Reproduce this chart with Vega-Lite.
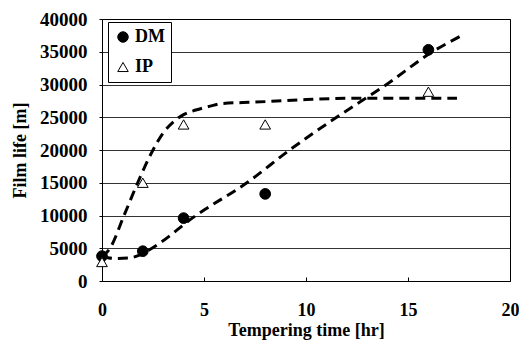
{
  "$schema": "https://vega.github.io/schema/vega-lite/v6.json",
  "width": 408,
  "height": 262,
  "autosize": "none",
  "padding": {"left": 102, "top": 19, "right": 9, "bottom": 60},
  "background": "white",
  "config": {
    "view": {"stroke": "black", "strokeWidth": 1},
    "font": "Liberation Serif",
    "legend": {
      "title": null,
      "orient": "none",
      "legendX": 6,
      "legendY": 3,
      "strokeColor": "black",
      "fillColor": "white",
      "padding": 6,
      "rowPadding": 12,
      "symbolSize": 110,
      "symbolStrokeColor": "black",
      "symbolStrokeWidth": 1,
      "labelFont": "Liberation Serif",
      "labelFontWeight": "bold",
      "labelFontSize": 18,
      "labelColor": "black",
      "labelOffset": 3
    }
  },
  "datasets": {
    "pts": [
      {"t": 0, "life": 3800, "series": "DM"},
      {"t": 2, "life": 4550, "series": "DM"},
      {"t": 4, "life": 9600, "series": "DM"},
      {"t": 8, "life": 13300, "series": "DM"},
      {"t": 16, "life": 35300, "series": "DM"},
      {"t": 0, "life": 2900, "series": "IP"},
      {"t": 2, "life": 15000, "series": "IP"},
      {"t": 4, "life": 23900, "series": "IP"},
      {"t": 8, "life": 23900, "series": "IP"},
      {"t": 16, "life": 28900, "series": "IP"}
    ],
    "curves": [
      {"t": 0, "life": 3700, "c": "DM"},
      {"t": 0.6, "life": 3450, "c": "DM"},
      {"t": 1.3, "life": 3500, "c": "DM"},
      {"t": 1.8, "life": 3900, "c": "DM"},
      {"t": 2.45, "life": 5000, "c": "DM"},
      {"t": 4.6, "life": 10000, "c": "DM"},
      {"t": 7.1, "life": 15000, "c": "DM"},
      {"t": 9.2, "life": 20000, "c": "DM"},
      {"t": 11.5, "life": 25000, "c": "DM"},
      {"t": 13.95, "life": 30000, "c": "DM"},
      {"t": 16.2, "life": 35000, "c": "DM"},
      {"t": 17.65, "life": 37500, "c": "DM"},
      {"t": 0, "life": 3700, "c": "IP"},
      {"t": 0.39, "life": 5000, "c": "IP"},
      {"t": 1.08, "life": 10000, "c": "IP"},
      {"t": 1.75, "life": 15000, "c": "IP"},
      {"t": 2.5, "life": 20000, "c": "IP"},
      {"t": 3.0, "life": 22600, "c": "IP"},
      {"t": 3.5, "life": 24300, "c": "IP"},
      {"t": 4.0, "life": 25400, "c": "IP"},
      {"t": 4.6, "life": 26100, "c": "IP"},
      {"t": 5.3, "life": 26700, "c": "IP"},
      {"t": 5.9, "life": 27100, "c": "IP"},
      {"t": 7.45, "life": 27300, "c": "IP"},
      {"t": 10, "life": 27700, "c": "IP"},
      {"t": 12.6, "life": 27900, "c": "IP"},
      {"t": 17.4, "life": 27900, "c": "IP"}
    ]
  },
  "encoding": {
    "x": {
      "field": "t", "type": "quantitative",
      "scale": {"domain": [0, 20], "nice": false},
      "axis": {
        "title": "Tempering time [hr]",
        "values": [0, 5, 10, 15, 20],
        "grid": false,
        "domain": false,
        "tickSize": -4,
        "tickColor": "black",
        "labelPadding": 24,
        "labelOverlap": false,
        "labelFont": "Liberation Serif",
        "labelFontWeight": "bold",
        "labelFontSize": 18,
        "labelColor": "black",
        "labelFlush": false,
        "titleFont": "Liberation Serif",
        "titleFontWeight": "bold",
        "titleFontSize": 18,
        "titleColor": "black",
        "titleBaseline": "alphabetic",
        "titleY": 54
      }
    },
    "y": {
      "field": "life", "type": "quantitative",
      "scale": {"domain": [0, 40000], "nice": false},
      "axis": {
        "title": "Film life [m]",
        "values": [0, 5000, 10000, 15000, 20000, 25000, 30000, 35000, 40000],
        "format": "d",
        "grid": true,
        "gridColor": "black",
        "gridOpacity": 0.8,
        "domain": false,
        "tickSize": 3,
        "tickColor": "black",
        "labelPadding": 12,
        "labelOverlap": false,
        "labelFont": "Liberation Serif",
        "labelFontWeight": "bold",
        "labelFontSize": 19,
        "labelColor": "black",
        "labelFlush": false,
        "titleFont": "Liberation Serif",
        "titleFontWeight": "bold",
        "titleFontSize": 18,
        "titleColor": "black",
        "titleAngle": 270,
        "titleBaseline": "middle",
        "titleAlign": "center",
        "titleX": -82,
        "titleY": 131
      }
    }
  },
  "layer": [
    {
      "data": {"name": "curves"},
      "mark": {"type": "line", "interpolate": "monotone", "color": "black", "strokeWidth": 3, "strokeDash": [10, 6]},
      "encoding": {
        "detail": {"field": "c"}
      }
    },
    {
      "data": {"name": "pts"},
      "mark": {"type": "point", "filled": true, "strokeWidth": 1, "size": 115, "opacity": 1},
      "encoding": {
        "shape": {
          "field": "series", "type": "nominal",
          "scale": {"domain": ["DM", "IP"], "range": ["circle", "triangle-up"]}
        },
        "fill": {
          "field": "series", "type": "nominal",
          "scale": {"domain": ["DM", "IP"], "range": ["black", "white"]}
        },
        "stroke": {
          "field": "series", "type": "nominal",
          "scale": {"domain": ["DM", "IP"], "range": ["black", "black"]}
        }
      }
    }
  ]
}
